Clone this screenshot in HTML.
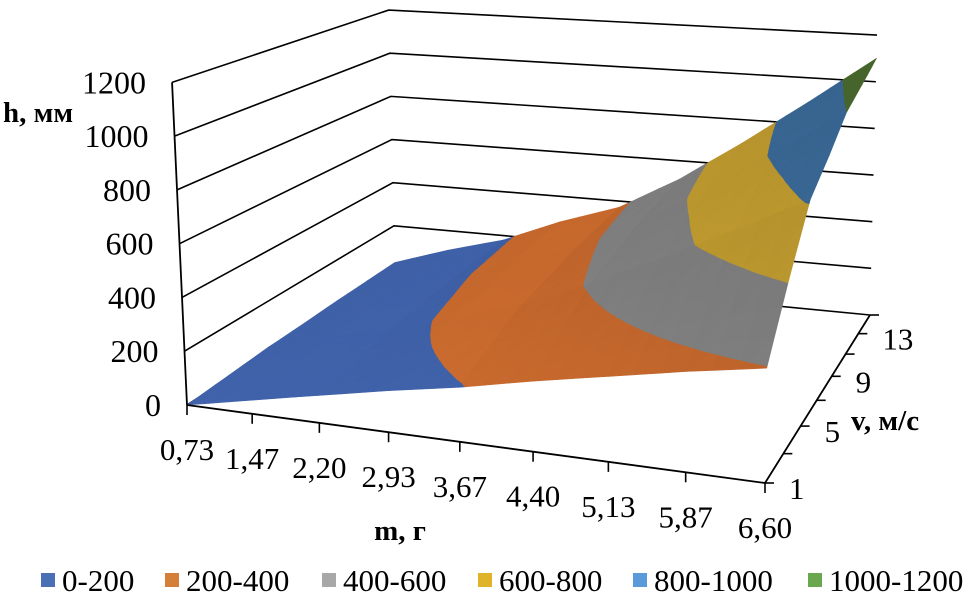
<!DOCTYPE html>
<html><head><meta charset="utf-8"><style>
html,body{margin:0;padding:0;background:#fff;}
svg{display:block;}
svg text{font-family:"Liberation Serif","Times New Roman",serif;}
</style></head><body>
<svg id="chart" width="980" height="608" viewBox="0 0 980 608" xmlns="http://www.w3.org/2000/svg" font-family="Liberation Serif, serif">
<g id="walls"></g>
<g id="surface"></g>
<g id="axes"></g>
<g id="labels"></g>
<text x="3" y="122" font-size="29" font-weight="bold">h, мм</text>
<text x="400" y="540" font-size="29" font-weight="bold" text-anchor="middle">m, г</text>
<text x="851" y="430" font-size="29" font-weight="bold">v, м/с</text>
<g id="legend"></g>
</svg>
<script>
const mCategories = ["0,73","1,47","2,20","2,93","3,67","4,40","5,13","5,87","6,60"];
const vSeries = ["1","3","5","7","9","11","13"];
const vTickLabels = ["1","","5","","9","","13",""];
const zTicks = [0,200,400,600,800,1000,1200];
const bandLabels = ["0-200","200-400","400-600","600-800","800-1000","1000-1200"];
const h_v1  = [0,50,100,150,195,250,300,350,395];
const h_v3  = [9,68,124,190,248,330,420,515,610];
const h_v5  = [18,85,147,228,300,410,537,670,810];
const h_v7  = [21,93,157,245,322,445,588,740,900];
const h_v9  = [26,101,169,265,347,482,644,818,1000];
const h_v11 = [28,106,174,275,360,502,673,857,1050];
const h_v13 = [30,110,180,285,372,520,700,895,1100];
const heights = [h_v1,h_v3,h_v5,h_v7,h_v9,h_v11,h_v13];

const NS="http://www.w3.org/2000/svg";
const faceColors=["#3f61a8","#c96a2e","#858585","#c9a232","#3d6e9e","#4d6f30"];
const legendColors=["#4a6fb5","#d4803a","#a8a8a8","#e0b42a","#5a9ad8","#6aa84f"];
const A=[187,405],B=[765,483],C=[870,315],D=[395,269];
const K=[323,349,280,259];const V=[629,9938];const ZMAX=1200;
function wu(u){return 0.888*u+0.112*u*u;}
function ww(w){return 1.26*w-0.26*w*w;}
function proj(u0,w0,h){
  const u=wu(u0),w=ww(w0);
  const a=(1-u)*(1-w),b=u*(1-w),c=u*w,d=(1-u)*w;
  const px=a*A[0]+b*B[0]+c*C[0]+d*D[0];
  const py=a*A[1]+b*B[1]+c*C[1]+d*D[1];
  const k=(a*K[0]+b*K[1]+c*K[2]+d*K[3])/ZMAX;
  let dx=px-V[0],dy=py-V[1];const L=Math.hypot(dx,dy);dx/=L;dy/=L;
  return [px+dx*k*h,py+dy*k*h];
}
function mk(tag,attrs,parent){const e=document.createElementNS(NS,tag);for(const k in attrs)e.setAttribute(k,attrs[k]);parent.appendChild(e);return e;}
const walls=document.getElementById('walls'),axes=document.getElementById('axes'),labels=document.getElementById('labels'),surf=document.getElementById('surface'),legend=document.getElementById('legend');
const FF='Liberation Serif, serif';
zTicks.forEach((z,idx)=>{
  const p0=proj(0,0,z),p1=proj(0,1,z),p2=proj(1,1,z);
  const g=mk('polyline',{points:p0.join(',')+' '+p1.join(',')+' '+p2.join(','),fill:'none',stroke:'#000','stroke-width':1.6},walls);
  
  
  const t=mk('text',{x:p0[0]-26,y:p0[1]+11,'font-size':32,'text-anchor':'end','font-family':FF},labels);
  t.textContent=String(z);
  
  
});
const nI=mCategories.length,nJ=vSeries.length;
function H(i,j){return heights[j][i];}
function clipBand(poly,lo,hi){
  function clip(pts,lev,keepAbove){
    const out=[];
    for(let k=0;k<pts.length;k++){
      const P=pts[k],Q=pts[(k+1)%pts.length];
      const pin=keepAbove?P[2]>=lev:P[2]<=lev,qin=keepAbove?Q[2]>=lev:Q[2]<=lev;
      if(pin)out.push(P);
      if(pin!==qin){const t=(lev-P[2])/(Q[2]-P[2]);out.push([P[0]+t*(Q[0]-P[0]),P[1]+t*(Q[1]-P[1]),lev]);}
    }
    return out;
  }
  let r=clip(poly,lo,true);if(r.length<3)return r;return clip(r,hi,false);
}
function shade(hex,f){const n=parseInt(hex.slice(1),16);let r=(n>>16)&255,g=(n>>8)&255,b=n&255;r=Math.min(255,Math.round(r*f));g=Math.min(255,Math.round(g*f));b=Math.min(255,Math.round(b*f));return 'rgb('+r+','+g+','+b+')';}
const SUB=3;
for(let j=nJ-2;j>=0;j--){
  for(let i=0;i<nI-1;i++){
    const h00=H(i,j),h10=H(i+1,j),h01=H(i,j+1),h11=H(i+1,j+1);
    for(let sj=SUB-1;sj>=0;sj--)for(let si=0;si<SUB;si++){
      const pts=[];
      for(const [a,b] of [[0,0],[1,0],[1,1],[0,1]]){
        const fu=(si+a)/SUB,fw=(sj+b)/SUB;
        const h=h00*(1-fu)*(1-fw)+h10*fu*(1-fw)+h11*fu*fw+h01*(1-fu)*fw;
        pts.push([(i+fu)/(nI-1),(j+fw)/(nJ-1),h]);
      }
      const tris=[[pts[0],pts[1],pts[2]],[pts[0],pts[2],pts[3]]];
      tris.forEach((tri,ti)=>{
        const e1=[tri[1][0]-tri[0][0],tri[1][1]-tri[0][1],(tri[1][2]-tri[0][2])/1200];
        const e2=[tri[2][0]-tri[0][0],tri[2][1]-tri[0][1],(tri[2][2]-tri[0][2])/1200];
        let nx=e1[1]*e2[2]-e1[2]*e2[1],ny=e1[2]*e2[0]-e1[0]*e2[2],nz=e1[0]*e2[1]-e1[1]*e2[0];
        const L=Math.hypot(nx,ny,nz)||1;if(nz<0){nx=-nx;ny=-ny;nz=-nz;}
        const f=0.9+0.2*((nx*0.5+ny*0.3+nz*0.8)/L);
        for(let b=0;b<6;b++){
          const poly=clipBand(tri,b*200,b*200+200);
          if(poly.length<3)continue;
          const col=shade(faceColors[b],f);
          const p=mk('polygon',{points:poly.map(q=>proj(q[0],q[1],q[2]).map(v=>v.toFixed(1)).join(',')).join(' '),fill:col,stroke:col,'stroke-width':0.6,'stroke-linejoin':'round'},surf);
          
          
        }
      });
    }
  }
}
const zaxA=proj(0,0,0),zaxT=proj(0,0,1200);
const zl=mk('line',{x1:zaxA[0],y1:zaxA[1],x2:zaxT[0],y2:zaxT[1],stroke:'#000','stroke-width':1.8},axes);


const pB=proj(1,0,0),pC=proj(1,1,0);
const xl=mk('line',{x1:zaxA[0],y1:zaxA[1],x2:pB[0],y2:pB[1],stroke:'#000','stroke-width':1.8},axes);


const yl=mk('line',{x1:pB[0],y1:pB[1],x2:pC[0],y2:pC[1],stroke:'#000','stroke-width':1.8},axes);


mCategories.forEach((c,i)=>{
  const p=proj(i/(nI-1),0,0);
  const tk=mk('line',{x1:p[0],y1:p[1],x2:p[0],y2:p[1]+10,stroke:'#000','stroke-width':1.6},axes);
  
  
  const t=mk('text',{x:p[0],y:p[1]+55,'font-size':31,'text-anchor':'middle','font-family':FF},labels);
  t.textContent=c;
  
  
});
vTickLabels.forEach((c,k)=>{
  const p=proj(1,k/(vTickLabels.length-1),0);
  const tk=mk('line',{x1:p[0],y1:p[1],x2:p[0]+9,y2:p[1],stroke:'#000','stroke-width':1.6},axes);
  
  
  if(c){
    const t=mk('text',{x:p[0]+24,y:p[1]+16,'font-size':31,'font-family':FF},labels);
    t.textContent=c;
    
    
  }
});
const lx=[41,165,322,478,633,808];
bandLabels.forEach((s,b)=>{
  const g=mk('g',{},legend);
  
  
  mk('rect',{x:lx[b],y:573,width:14,height:14,fill:legendColors[b]},g);
  const t=mk('text',{x:lx[b]+21,y:591,'font-size':31,'font-family':FF},g);
  t.textContent=s;
});
</script>
</body></html>
